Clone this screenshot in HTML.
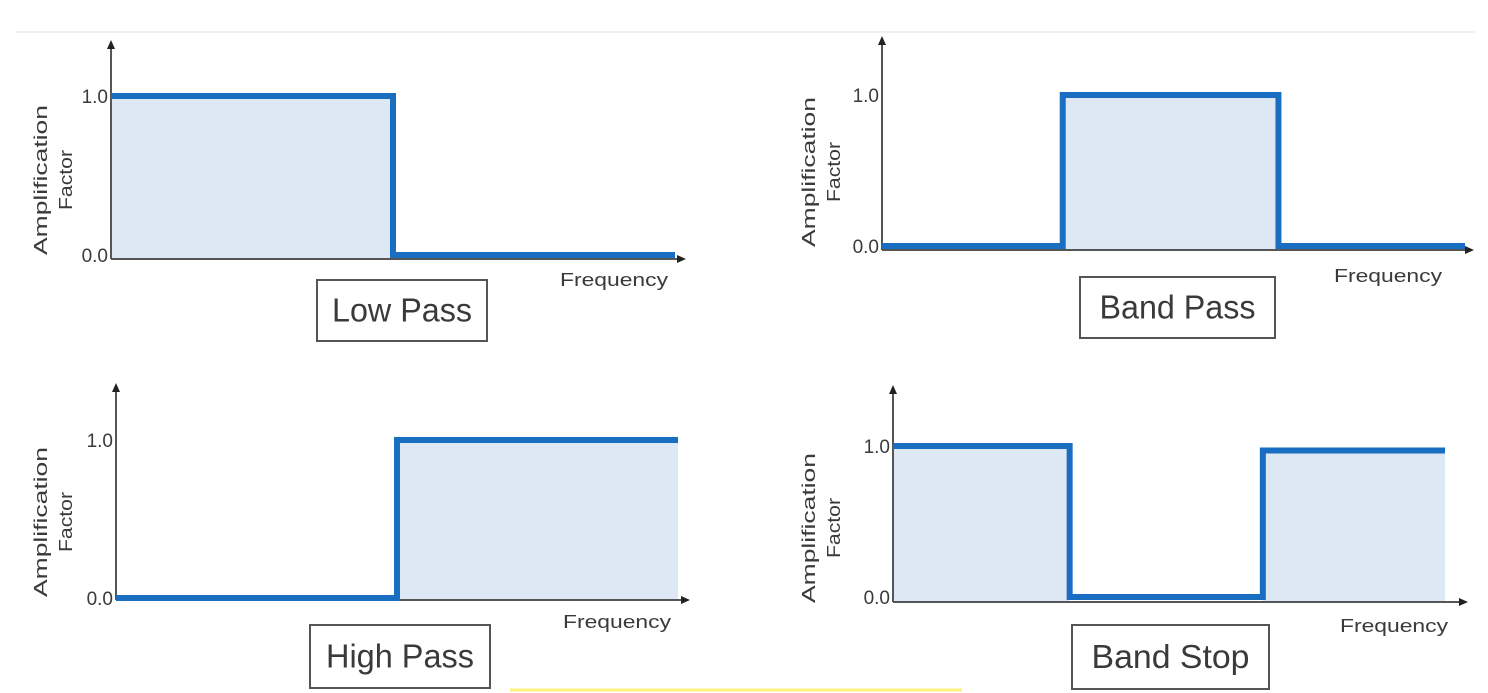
<!DOCTYPE html>
<html><head><meta charset="utf-8">
<style>
html,body{margin:0;padding:0;background:#fff;}
svg{display:block;}
text{font-family:"Liberation Sans Narrow","Liberation Sans",sans-serif;fill:#3a3a3a;}
</style></head>
<body>
<svg id="chart" width="1488" height="693" viewBox="0 0 1488 693" xmlns="http://www.w3.org/2000/svg">
<line x1="15" y1="32" x2="1475" y2="32" stroke="#f0f0f0" stroke-width="2"/>
<line x1="510" y1="690" x2="962" y2="690" stroke="#fff27a" stroke-width="3"/>
</svg>
<script>
// Frequency breakpoints (fraction of axis span) and gain per segment
const lowPassEdges = [0, 0.50, 1];
const lowPassGains = [1, 0];
const bandPassEdges = [0, 0.31, 0.68, 1];
const bandPassGains = [0, 1, 0];
const highPassEdges = [0, 0.50, 1];
const highPassGains = [0, 1];
const bandStopEdges = [0, 0.32, 0.67, 1];
const bandStopGains = [1, 0, 0.97];
const yTickLabels = ["0.0", "1.0"];
const yTickValues = [0, 1];
const titles = ["Low Pass", "Band Pass", "High Pass", "Band Stop"];

const NS = "http://www.w3.org/2000/svg";
const svg = document.getElementById("chart");
function mk(tag, attrs, parent) {
  const e = document.createElementNS(NS, tag);
  for (const k in attrs) e.setAttribute(k, attrs[k]);
  (parent || svg).appendChild(e);
  return e;
}
const panels = [
  {name:"low-pass", edges:lowPassEdges, gains:lowPassGains, ax:111, top:40, base:259, end:675, arrow:686, y1:96, y0:255, box:[317,280,170,61], tw:140, freq:[560,286], ylab:[47,72], cy:180},
  {name:"band-pass", edges:bandPassEdges, gains:bandPassGains, ax:882, top:36, base:250, end:1465, arrow:1474, y1:95, y0:246, box:[1080,277,195,61], tw:156, freq:[1334,282], ylab:[815,840], cy:172},
  {name:"high-pass", edges:highPassEdges, gains:highPassGains, ax:116, top:383, base:600, end:678, arrow:690, y1:440, y0:598, box:[310,625,180,63], tw:148, freq:[563,628], ylab:[47,72], cy:522},
  {name:"band-stop", edges:bandStopEdges, gains:bandStopGains, ax:893, top:385, base:602, end:1445, arrow:1468, y1:446, y0:597, box:[1072,625,197,64], tw:158, freq:[1340,632], ylab:[815,840], cy:528}
];
panels.forEach((p, pi) => {
  const g = mk("g", {});
  
  
  const xs = f => p.ax + f * (p.end - p.ax);
  const ys = v => p.y0 + v * (p.y1 - p.y0);
  for (let i = 0; i < p.gains.length; i++) {
    if (p.gains[i] <= 0) continue;
    const r = mk("rect", {x:xs(p.edges[i]), y:ys(p.gains[i]), width:xs(p.edges[i+1]) - xs(p.edges[i]), height:p.base - ys(p.gains[i]), fill:"#dde8f4"}, g);
    
    
  }
  const ya = mk("line", {x1:p.ax, y1:p.base, x2:p.ax, y2:p.top + 8, stroke:"#555", "stroke-width":2}, g);
  
  
  const yarr = mk("polygon", {points:`${p.ax-4},${p.top+9} ${p.ax+4},${p.top+9} ${p.ax},${p.top}`, fill:"#222"}, g);
  
  
  const xa = mk("line", {x1:p.ax, y1:p.base, x2:p.arrow - 8, y2:p.base, stroke:"#555", "stroke-width":2}, g);
  
  
  const xarr = mk("polygon", {points:`${p.arrow-9},${p.base-4} ${p.arrow-9},${p.base+4} ${p.arrow},${p.base}`, fill:"#222"}, g);
  
  
  let d = "";
  for (let i = 0; i < p.gains.length; i++) {
    const y = ys(p.gains[i]);
    d += (i === 0 ? "M" : "L") + xs(p.edges[i]) + "," + y + " L" + xs(p.edges[i+1]) + "," + y + " ";
  }
  const path = mk("path", {d:d, fill:"none", stroke:"#1a6ec2", "stroke-width":6, "stroke-linejoin":"miter"}, g);
  
  
  yTickValues.forEach((v, i) => {
    const t = mk("text", {x:p.ax - 3, y:ys(v) + 7, "font-size":19, "text-anchor":"end"}, g);
    
    
    t.textContent = yTickLabels[i];
  });
  const cy = p.cy;
  const yl1 = mk("text", {x:p.ylab[0], y:cy, "font-size":18, "text-anchor":"middle", textLength:150, lengthAdjust:"spacingAndGlyphs", transform:`rotate(-90 ${p.ylab[0]} ${cy})`}, g);
  
  
  yl1.textContent = "Amplification";
  const yl2 = mk("text", {x:p.ylab[1], y:cy, "font-size":18, "text-anchor":"middle", textLength:60, lengthAdjust:"spacingAndGlyphs", transform:`rotate(-90 ${p.ylab[1]} ${cy})`}, g);
  
  
  yl2.textContent = "Factor";
  const fx = mk("text", {x:p.freq[0], y:p.freq[1], "font-size":18, textLength:108, lengthAdjust:"spacingAndGlyphs"}, g);
  
  
  fx.textContent = "Frequency";
  const b = p.box;
  const br = mk("rect", {x:b[0], y:b[1], width:b[2], height:b[3], fill:"#fff", stroke:"#555", "stroke-width":2}, g);
  
  
  const bt = mk("text", {x:b[0] + b[2]/2, y:b[1] + b[3]/2 + 11, "font-size":33, "text-anchor":"middle", fill:"#333", textLength:p.tw, lengthAdjust:"spacingAndGlyphs"}, g);
  
  
  bt.textContent = titles[pi];
});
</script>
</body></html>
